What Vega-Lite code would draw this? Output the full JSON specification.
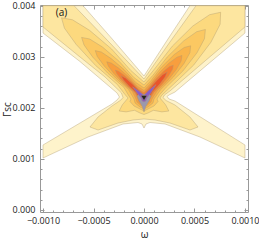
{
"$schema": "https://vega.github.io/schema/vega-lite/v6.json",
"width": 208, "height": 207,
"autosize": {"type": "none"},
"padding": {"left": 40, "top": 5, "right": 11, "bottom": 29},
"background": "white",
"config": {"view": {"stroke": null}, "font": "Open Sans"},
"datasets": {
"poly": [
{"k":"L01","i":1,"w":-0.001,"g":0.004},{"k":"L01","i":2,"w":-0.000604,"g":0.004},{"k":"L01","i":3,"w":-0.000337,"g":0.003399},{"k":"L01","i":4,"w":-0.0000891,"g":0.002829},{"k":"L01","i":5,"w":-0.0000386,"g":0.002712},{"k":"L01","i":6,"w":0,"g":0.002624},{"k":"L01","i":7,"w":0.0000317,"g":0.002722},{"k":"L01","i":8,"w":0.000218,"g":0.003289},{"k":"L01","i":9,"w":0.000455,"g":0.004},{"k":"L01","i":10,"w":0.001,"g":0.004},{"k":"L01","i":11,"w":0.001,"g":0.003465},{"k":"L01","i":12,"w":0.000624,"g":0.002839},{"k":"L01","i":13,"w":0.000307,"g":0.00231},{"k":"L01","i":14,"w":0.000248,"g":0.002252},{"k":"L01","i":15,"w":0.000228,"g":0.002222},{"k":"L01","i":16,"w":0.000248,"g":0.002173},{"k":"L01","i":17,"w":0.000307,"g":0.002134},{"k":"L01","i":18,"w":0.001,"g":0.001273},{"k":"L01","i":19,"w":0.001,"g":0.001018},{"k":"L01","i":20,"w":0.000554,"g":0.001429},{"k":"L01","i":21,"w":0.000208,"g":0.001684},{"k":"L01","i":22,"w":0.0000594,"g":0.001713},{"k":"L01","i":23,"w":0.0000198,"g":0.001684},{"k":"L01","i":24,"w":0,"g":0.001605},{"k":"L01","i":25,"w":-0.0000198,"g":0.001684},{"k":"L01","i":26,"w":-0.0000594,"g":0.001713},{"k":"L01","i":27,"w":-0.000208,"g":0.001684},{"k":"L01","i":28,"w":-0.000554,"g":0.001429},{"k":"L01","i":29,"w":-0.001,"g":0.001018},{"k":"L01","i":30,"w":-0.001,"g":0.001273},{"k":"L01","i":31,"w":-0.000317,"g":0.002075},{"k":"L01","i":32,"w":-0.000267,"g":0.002154},{"k":"L01","i":33,"w":-0.000243,"g":0.002212},{"k":"L01","i":34,"w":-0.000267,"g":0.002291},{"k":"L01","i":35,"w":-0.000634,"g":0.002907},{"k":"L01","i":36,"w":-0.001,"g":0.003465},{"k":"L01","i":37,"w":-0.001,"g":0.004},
{"k":"L02","i":1,"w":-0.001,"g":0.004},{"k":"L02","i":2,"w":-0.000693,"g":0.004},{"k":"L02","i":3,"w":-0.000337,"g":0.00327},{"k":"L02","i":4,"w":-0.0000792,"g":0.002731},{"k":"L02","i":5,"w":0,"g":0.002565},{"k":"L02","i":6,"w":0.0000574,"g":0.002727},{"k":"L02","i":7,"w":0.000257,"g":0.003289},{"k":"L02","i":8,"w":0.000515,"g":0.004},{"k":"L02","i":9,"w":0.001,"g":0.004},{"k":"L02","i":10,"w":0.001,"g":0.003583},{"k":"L02","i":11,"w":0.000604,"g":0.002917},{"k":"L02","i":12,"w":0.000257,"g":0.00233},{"k":"L02","i":13,"w":0.000203,"g":0.002252},{"k":"L02","i":14,"w":0.000188,"g":0.002203},{"k":"L02","i":15,"w":0.000218,"g":0.002144},{"k":"L02","i":16,"w":0.000307,"g":0.002056},{"k":"L02","i":17,"w":0.000455,"g":0.001821},{"k":"L02","i":18,"w":0.000535,"g":0.001625},{"k":"L02","i":19,"w":0.000455,"g":0.001566},{"k":"L02","i":20,"w":0.000257,"g":0.001703},{"k":"L02","i":21,"w":0.000109,"g":0.001762},{"k":"L02","i":22,"w":0,"g":0.001782},{"k":"L02","i":23,"w":-0.000109,"g":0.001762},{"k":"L02","i":24,"w":-0.000257,"g":0.001703},{"k":"L02","i":25,"w":-0.000455,"g":0.001566},{"k":"L02","i":26,"w":-0.000535,"g":0.001625},{"k":"L02","i":27,"w":-0.000455,"g":0.001821},{"k":"L02","i":28,"w":-0.000317,"g":0.002036},{"k":"L02","i":29,"w":-0.000228,"g":0.002154},{"k":"L02","i":30,"w":-0.000208,"g":0.002203},{"k":"L02","i":31,"w":-0.000223,"g":0.002291},{"k":"L02","i":32,"w":-0.000386,"g":0.002604},{"k":"L02","i":33,"w":-0.000634,"g":0.002996},{"k":"L02","i":34,"w":-0.001,"g":0.003583},{"k":"L02","i":35,"w":-0.001,"g":0.004},
{"k":"L03","i":1,"w":0,"g":0.002506},{"k":"L03","i":2,"w":0.000105,"g":0.002763},{"k":"L03","i":3,"w":0.00028,"g":0.003207},{"k":"L03","i":4,"w":0.000484,"g":0.003603},{"k":"L03","i":5,"w":0.00065,"g":0.003824},{"k":"L03","i":6,"w":0.000759,"g":0.003871},{"k":"L03","i":7,"w":0.000754,"g":0.003638},{"k":"L03","i":8,"w":0.000663,"g":0.003285},{"k":"L03","i":9,"w":0.000491,"g":0.002835},{"k":"L03","i":10,"w":0.000284,"g":0.002445},{"k":"L03","i":11,"w":0.000178,"g":0.002252},{"k":"L03","i":12,"w":0.000158,"g":0.002193},{"k":"L03","i":13,"w":0.000215,"g":0.002058},{"k":"L03","i":14,"w":0.000246,"g":0.001938},{"k":"L03","i":15,"w":0.000177,"g":0.001921},{"k":"L03","i":16,"w":0.0000931,"g":0.001952},{"k":"L03","i":17,"w":0.0000396,"g":0.001899},{"k":"L03","i":18,"w":0,"g":0.00187},{"k":"L03","i":19,"w":-0.0000396,"g":0.001899},{"k":"L03","i":20,"w":-0.0000931,"g":0.001952},{"k":"L03","i":21,"w":-0.000177,"g":0.001921},{"k":"L03","i":22,"w":-0.000246,"g":0.001938},{"k":"L03","i":23,"w":-0.000215,"g":0.002058},{"k":"L03","i":24,"w":-0.000158,"g":0.002193},{"k":"L03","i":25,"w":-0.000188,"g":0.002261},{"k":"L03","i":26,"w":-0.000265,"g":0.002459},{"k":"L03","i":27,"w":-0.00048,"g":0.002831},{"k":"L03","i":28,"w":-0.000673,"g":0.003244},{"k":"L03","i":29,"w":-0.000788,"g":0.003561},{"k":"L03","i":30,"w":-0.000817,"g":0.003763},{"k":"L03","i":31,"w":-0.000708,"g":0.003724},{"k":"L03","i":32,"w":-0.000539,"g":0.003518},{"k":"L03","i":33,"w":-0.000322,"g":0.003154},{"k":"L03","i":34,"w":-0.000131,"g":0.002733},{"k":"L03","i":35,"w":0,"g":0.002506},
{"k":"L04","i":1,"w":0,"g":0.002447},{"k":"L04","i":2,"w":0.0000891,"g":0.002639},{"k":"L04","i":3,"w":0.00023,"g":0.002996},{"k":"L04","i":4,"w":0.000393,"g":0.003311},{"k":"L04","i":5,"w":0.000522,"g":0.003491},{"k":"L04","i":6,"w":0.000608,"g":0.003534},{"k":"L04","i":7,"w":0.000599,"g":0.003354},{"k":"L04","i":8,"w":0.000525,"g":0.003078},{"k":"L04","i":9,"w":0.000385,"g":0.002721},{"k":"L04","i":10,"w":0.000221,"g":0.002406},{"k":"L04","i":11,"w":0.000153,"g":0.002252},{"k":"L04","i":12,"w":0.000129,"g":0.002173},{"k":"L04","i":13,"w":0.000139,"g":0.002124},{"k":"L04","i":14,"w":0.000099,"g":0.002036},{"k":"L04","i":15,"w":0.0000396,"g":0.001977},{"k":"L04","i":16,"w":0,"g":0.001938},{"k":"L04","i":17,"w":-0.0000396,"g":0.001977},{"k":"L04","i":18,"w":-0.000099,"g":0.002036},{"k":"L04","i":19,"w":-0.000139,"g":0.002124},{"k":"L04","i":20,"w":-0.000129,"g":0.002173},{"k":"L04","i":21,"w":-0.000158,"g":0.002261},{"k":"L04","i":22,"w":-0.000199,"g":0.0024},{"k":"L04","i":23,"w":-0.00036,"g":0.00268},{"k":"L04","i":24,"w":-0.000508,"g":0.002994},{"k":"L04","i":25,"w":-0.000594,"g":0.003232},{"k":"L04","i":26,"w":-0.000618,"g":0.003379},{"k":"L04","i":27,"w":-0.000538,"g":0.003348},{"k":"L04","i":28,"w":-0.000411,"g":0.003191},{"k":"L04","i":29,"w":-0.000247,"g":0.002913},{"k":"L04","i":30,"w":-0.000102,"g":0.002598},{"k":"L04","i":31,"w":0,"g":0.002447},
{"k":"L05","i":1,"w":0,"g":0.002389},{"k":"L05","i":2,"w":0.0000683,"g":0.002532},{"k":"L05","i":3,"w":0.000175,"g":0.002802},{"k":"L05","i":4,"w":0.000299,"g":0.003043},{"k":"L05","i":5,"w":0.000398,"g":0.003182},{"k":"L05","i":6,"w":0.000462,"g":0.003215},{"k":"L05","i":7,"w":0.000455,"g":0.00308},{"k":"L05","i":8,"w":0.000397,"g":0.00287},{"k":"L05","i":9,"w":0.00029,"g":0.0026},{"k":"L05","i":10,"w":0.000166,"g":0.002359},{"k":"L05","i":11,"w":0.000099,"g":0.002173},{"k":"L05","i":12,"w":0.0000891,"g":0.002095},{"k":"L05","i":13,"w":0.0000396,"g":0.002017},{"k":"L05","i":14,"w":0,"g":0.001977},{"k":"L05","i":15,"w":-0.0000396,"g":0.002017},{"k":"L05","i":16,"w":-0.0000891,"g":0.002095},{"k":"L05","i":17,"w":-0.000099,"g":0.002173},{"k":"L05","i":18,"w":-0.000153,"g":0.002357},{"k":"L05","i":19,"w":-0.000279,"g":0.002581},{"k":"L05","i":20,"w":-0.000395,"g":0.002821},{"k":"L05","i":21,"w":-0.000463,"g":0.003007},{"k":"L05","i":22,"w":-0.000483,"g":0.003121},{"k":"L05","i":23,"w":-0.000422,"g":0.003092},{"k":"L05","i":24,"w":-0.000325,"g":0.002964},{"k":"L05","i":25,"w":-0.000197,"g":0.002749},{"k":"L05","i":26,"w":-0.0000832,"g":0.0025},{"k":"L05","i":27,"w":0,"g":0.002389},
{"k":"L06","i":1,"w":0,"g":0.00234},{"k":"L06","i":2,"w":0.0000594,"g":0.002461},{"k":"L06","i":3,"w":0.000148,"g":0.00268},{"k":"L06","i":4,"w":0.000248,"g":0.002876},{"k":"L06","i":5,"w":0.000327,"g":0.002992},{"k":"L06","i":6,"w":0.000376,"g":0.003025},{"k":"L06","i":7,"w":0.000368,"g":0.002917},{"k":"L06","i":8,"w":0.00032,"g":0.002749},{"k":"L06","i":9,"w":0.000233,"g":0.00253},{"k":"L06","i":10,"w":0.000132,"g":0.002334},{"k":"L06","i":11,"w":0.0000792,"g":0.002173},{"k":"L06","i":12,"w":0.0000693,"g":0.002115},{"k":"L06","i":13,"w":0.0000297,"g":0.002046},{"k":"L06","i":14,"w":0,"g":0.002017},{"k":"L06","i":15,"w":-0.0000297,"g":0.002046},{"k":"L06","i":16,"w":-0.0000693,"g":0.002115},{"k":"L06","i":17,"w":-0.0000792,"g":0.002173},{"k":"L06","i":18,"w":-0.000116,"g":0.002324},{"k":"L06","i":19,"w":-0.000212,"g":0.00249},{"k":"L06","i":20,"w":-0.000301,"g":0.002678},{"k":"L06","i":21,"w":-0.000353,"g":0.002817},{"k":"L06","i":22,"w":-0.000369,"g":0.002902},{"k":"L06","i":23,"w":-0.000324,"g":0.002876},{"k":"L06","i":24,"w":-0.000251,"g":0.002778},{"k":"L06","i":25,"w":-0.000153,"g":0.00261},{"k":"L06","i":26,"w":-0.0000663,"g":0.002424},{"k":"L06","i":27,"w":0,"g":0.00234},
{"k":"L07","i":1,"w":0,"g":0.002301},{"k":"L07","i":2,"w":0.0000485,"g":0.002395},{"k":"L07","i":3,"w":0.000118,"g":0.002563},{"k":"L07","i":4,"w":0.000194,"g":0.002716},{"k":"L07","i":5,"w":0.000253,"g":0.00281},{"k":"L07","i":6,"w":0.00029,"g":0.002835},{"k":"L07","i":7,"w":0.000283,"g":0.002757},{"k":"L07","i":8,"w":0.000245,"g":0.002628},{"k":"L07","i":9,"w":0.000176,"g":0.002459},{"k":"L07","i":10,"w":0.000099,"g":0.002306},{"k":"L07","i":11,"w":0.0000594,"g":0.002173},{"k":"L07","i":12,"w":0.0000495,"g":0.002124},{"k":"L07","i":13,"w":0.0000248,"g":0.002075},{"k":"L07","i":14,"w":0,"g":0.002056},{"k":"L07","i":15,"w":-0.0000248,"g":0.002075},{"k":"L07","i":16,"w":-0.0000495,"g":0.002124},{"k":"L07","i":17,"w":-0.0000594,"g":0.002173},{"k":"L07","i":18,"w":-0.0000881,"g":0.002295},{"k":"L07","i":19,"w":-0.000162,"g":0.002422},{"k":"L07","i":20,"w":-0.00023,"g":0.002567},{"k":"L07","i":21,"w":-0.000271,"g":0.002673},{"k":"L07","i":22,"w":-0.000284,"g":0.002739},{"k":"L07","i":23,"w":-0.000251,"g":0.002716},{"k":"L07","i":24,"w":-0.000196,"g":0.002637},{"k":"L07","i":25,"w":-0.000121,"g":0.002508},{"k":"L07","i":26,"w":-0.0000545,"g":0.002365},{"k":"L07","i":27,"w":0,"g":0.002301},
{"k":"L08","i":1,"w":0,"g":0.002261},{"k":"L08","i":2,"w":0.0000535,"g":0.002373},{"k":"L08","i":3,"w":0.000122,"g":0.002528},{"k":"L08","i":4,"w":0.000184,"g":0.002649},{"k":"L08","i":5,"w":0.000231,"g":0.002704},{"k":"L08","i":6,"w":0.000209,"g":0.002604},{"k":"L08","i":7,"w":0.000157,"g":0.002465},{"k":"L08","i":8,"w":0.0000861,"g":0.002316},{"k":"L08","i":9,"w":0.0000495,"g":0.002183},{"k":"L08","i":10,"w":0.0000297,"g":0.002134},{"k":"L08","i":11,"w":0,"g":0.002105},{"k":"L08","i":12,"w":-0.0000297,"g":0.002134},{"k":"L08","i":13,"w":-0.0000495,"g":0.002183},{"k":"L08","i":14,"w":-0.0000812,"g":0.002299},{"k":"L08","i":15,"w":-0.00015,"g":0.002428},{"k":"L08","i":16,"w":-0.000203,"g":0.002545},{"k":"L08","i":17,"w":-0.000227,"g":0.002629},{"k":"L08","i":18,"w":-0.000183,"g":0.002584},{"k":"L08","i":19,"w":-0.000123,"g":0.002483},{"k":"L08","i":20,"w":-0.0000554,"g":0.002349},{"k":"L08","i":21,"w":0,"g":0.002261},
{"k":"L09","i":1,"w":-0.0000396,"g":0.002291},{"k":"L09","i":2,"w":0,"g":0.002261},{"k":"L09","i":3,"w":0.0000396,"g":0.002301},{"k":"L09","i":4,"w":0.0000693,"g":0.002232},{"k":"L09","i":5,"w":0.0000495,"g":0.002134},{"k":"L09","i":6,"w":0.0000198,"g":0.002036},{"k":"L09","i":7,"w":0,"g":0.001919},{"k":"L09","i":8,"w":-0.0000198,"g":0.002036},{"k":"L09","i":9,"w":-0.0000495,"g":0.002134},{"k":"L09","i":10,"w":-0.0000693,"g":0.002232},{"k":"L09","i":11,"w":-0.0000396,"g":0.002291},
{"k":"L10","i":1,"w":0,"g":0.002242},{"k":"L10","i":2,"w":0.0000475,"g":0.002346},{"k":"L10","i":3,"w":0.000119,"g":0.002455},{"k":"L10","i":4,"w":0.0000713,"g":0.002302},{"k":"L10","i":5,"w":0.0000297,"g":0.002193},{"k":"L10","i":6,"w":0.0000198,"g":0.002134},{"k":"L10","i":7,"w":0,"g":0.002115},{"k":"L10","i":8,"w":-0.0000198,"g":0.002134},{"k":"L10","i":9,"w":-0.0000297,"g":0.002193},{"k":"L10","i":10,"w":-0.0000663,"g":0.002281},{"k":"L10","i":11,"w":-0.000114,"g":0.002412},{"k":"L10","i":12,"w":-0.0000465,"g":0.002324},{"k":"L10","i":13,"w":0,"g":0.002242},
{"k":"L11","i":1,"w":-0.0000297,"g":0.002242},{"k":"L11","i":2,"w":0.0000297,"g":0.002242},{"k":"L11","i":3,"w":0,"g":0.002144},{"k":"L11","i":4,"w":-0.0000297,"g":0.002242}
],
"lab": [{"t":"(a)","w":-0.000817,"g":0.003857}]
},
"layer": [
{
"data": {"name": "poly"},
"mark": {"type": "line", "stroke": "#b09a70", "strokeWidth": 0.5, "strokeOpacity": 0.8},
"encoding": {
"x": {"field": "w", "type": "quantitative", "scale": {"domain": [-0.00103, 0.00103], "nice": false, "zero": false},
"axis": {"orient": "bottom", "values": [-0.001,-0.0009,-0.0008,-0.0007,-0.0006,-0.0005,-0.0004,-0.0003,-0.0002,-0.0001,0,0.0001,0.0002,0.0003,0.0004,0.0005,0.0006,0.0007,0.0008,0.0009,0.001],
"format": ".4f", "labelExpr": "abs(round(datum.value*2000)-datum.value*2000)<0.01 ? datum.label : ''",
"tickSize": {"condition": {"test": "abs(round(datum.value*2000)-datum.value*2000)<0.01", "value": -4}, "value": -2},
"labelPadding": 8, "labelFontSize": 9, "labelFont": "Open Sans", "labelColor": "#222", "labelFlush": false, "labelOverlap": false,
"domainColor": "#999", "tickColor": "#999", "grid": false,
"title": "ω", "titleFont": "Open Sans", "titleFontSize": 10, "titleFontWeight": "normal", "titleColor": "#222", "titleX": 104, "titleY": 22, "titleBaseline": "middle", "titleAlign": "center"}},
"y": {"field": "g", "type": "quantitative", "scale": {"domain": [-0.0000392, 0.0040137], "nice": false, "zero": false},
"axis": {"orient": "left", "values": [0,0.0002,0.0004,0.0006,0.0008,0.001,0.0012,0.0014,0.0016,0.0018,0.002,0.0022,0.0024,0.0026,0.0028,0.003,0.0032,0.0034,0.0036,0.0038,0.004],
"format": ".3f", "labelExpr": "abs(round(datum.value*1000)-datum.value*1000)<0.01 ? datum.label : ''",
"tickSize": {"condition": {"test": "abs(round(datum.value*1000)-datum.value*1000)<0.01", "value": -4}, "value": -2},
"labelPadding": 9, "labelFontSize": 9, "labelFont": "Open Sans", "labelColor": "#222", "labelFlush": false, "labelOverlap": false,
"domainColor": "#999", "tickColor": "#999", "grid": false,
"title": "Γsc", "titleFont": "Open Sans", "titleFontSize": 10, "titleFontWeight": "normal", "titleColor": "#222", "titleX": -33, "titleY": 104, "titleAngle": -90, "titleBaseline": "middle", "titleAlign": "center"}},
"fill": {"field": "k", "type": "nominal", "legend": null,
"scale": {"domain": ["L01","L02","L03","L04","L05","L06","L07","L08","L09","L10","L11"],
"range": ["#fef3cb","#fde6a0","#fcd97e","#fbc862","#f9b54c","#f89e3e","#f47f33","#e9542b","#9b98ad","#8a5cc8","#222222"]}},
"detail": {"field": "k"},
"order": {"field": "i", "type": "quantitative"}
}
},
{
"data": {"name": "lab"},
"mark": {"type": "text", "font": "Open Sans", "fontSize": 10, "color": "#111", "align": "center", "baseline": "middle"},
"encoding": {
"x": {"field": "w", "type": "quantitative", "scale": {"domain": [-0.00103, 0.00103], "nice": false, "zero": false},
"axis": {"orient": "top", "values": [-0.001,-0.0009,-0.0008,-0.0007,-0.0006,-0.0005,-0.0004,-0.0003,-0.0002,-0.0001,0,0.0001,0.0002,0.0003,0.0004,0.0005,0.0006,0.0007,0.0008,0.0009,0.001],
"labels": false, "title": null, "grid": false, "domainColor": "#999", "tickColor": "#999",
"tickSize": {"condition": {"test": "abs(round(datum.value*2000)-datum.value*2000)<0.01", "value": -4}, "value": -2}}},
"y": {"field": "g", "type": "quantitative", "scale": {"domain": [-0.0000392, 0.0040137], "nice": false, "zero": false},
"axis": {"orient": "right", "values": [0,0.0002,0.0004,0.0006,0.0008,0.001,0.0012,0.0014,0.0016,0.0018,0.002,0.0022,0.0024,0.0026,0.0028,0.003,0.0032,0.0034,0.0036,0.0038,0.004],
"labels": false, "title": null, "grid": false, "domainColor": "#999", "tickColor": "#999",
"tickSize": {"condition": {"test": "abs(round(datum.value*1000)-datum.value*1000)<0.01", "value": -4}, "value": -2}}},
"text": {"field": "t"}
}
}
],
"resolve": {"axis": {"x": "independent", "y": "independent"}}
}
